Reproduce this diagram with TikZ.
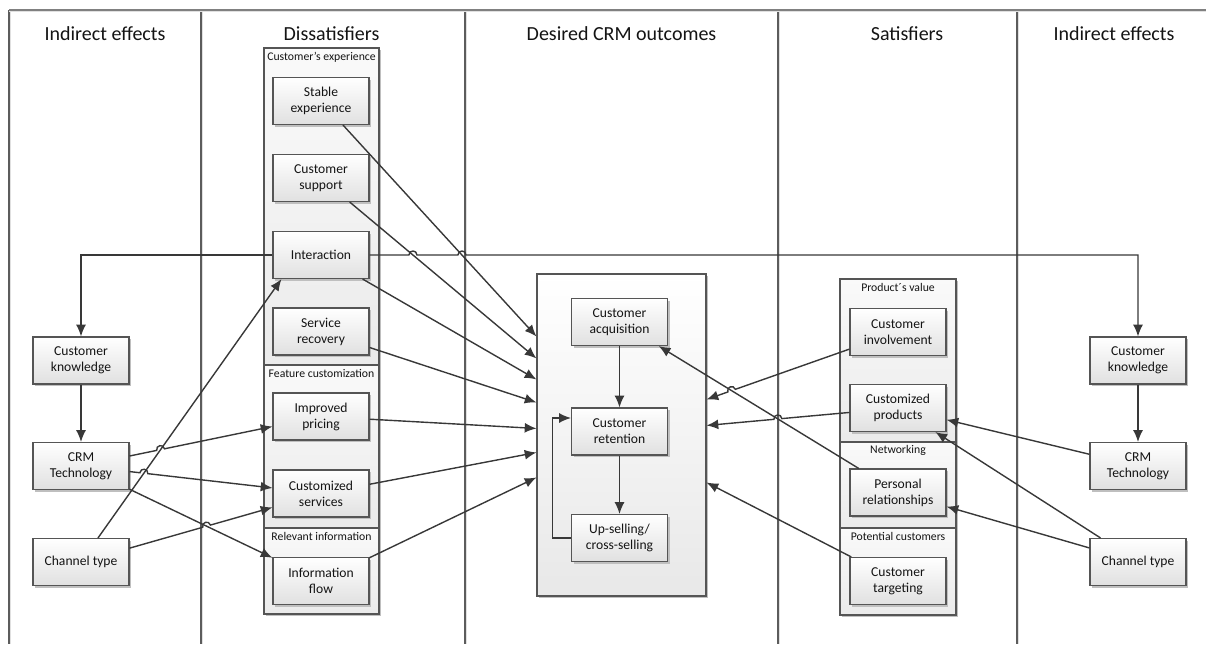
\documentclass[tikz,border=0pt]{standalone}
\usepackage{fontspec}
\setmainfont{Carlito}
\usetikzlibrary{arrows.meta,calc,intersections,shadows}

\definecolor{ink}{HTML}{141414}
\definecolor{wire}{HTML}{383838}
\definecolor{boxline}{HTML}{555555}
\definecolor{lanegray}{HTML}{5C5C5C}

% line jump: points just before/after crossing #1 (toward #2 on the left, #3 on the right)
% and the control points of the little arc over it
\newcommand\mkhop[3]{%
  \coordinate (#1a) at ($(#1)!3pt!(#2)$);
  \coordinate (#1b) at ($(#1)!3pt!(#3)$);
  \coordinate (#1c) at ($(#1a)!4pt!90:(#1b)$);
  \coordinate (#1d) at ($(#1b)!4pt!-90:(#1a)$);
}

\tikzset{
  sizepx/.style 2 args={minimum width=#1*0.75pt, minimum height=#2*0.75pt},
  castshadow/.style={drop shadow={shadow xshift=1.5pt, shadow yshift=-1.5pt, fill=black!25, opacity=1}},
  box/.style={draw=boxline, line width=0.8pt, top color=white, bottom color=black!12,
    sizepx={96}{47}, inner sep=0pt, align=center, text=ink,
    font=\fontsize{10.2}{12}\selectfont, castshadow},
  groupbox/.style={draw=boxline, line width=0.8pt, top color=black!2, bottom color=black!8,
    inner sep=0pt, castshadow},
  outcomes/.style={draw=boxline, line width=0.8pt, top color=white, bottom color=black!9,
    inner sep=0pt, castshadow},
  grouptitle/.style={anchor=base, inner sep=0pt, text=ink, font=\fontsize{8.8}{10}\selectfont},
  header/.style={anchor=base, inner sep=0pt, text=ink, font=\fontsize{15}{18}\selectfont},
  lane/.style={draw=lanegray, line width=0.9pt},
  laneglow/.style={draw=black!12, line width=0.8pt},
  conn/.style={draw=wire, line width=1.05pt},
  arr/.style={conn, -{Latex[length=8.8pt,width=7.4pt]}},
}

\begin{document}
\begin{tikzpicture}[x=0.75pt, y=-0.75pt]
\useasboundingbox (0,0) rectangle (1206,644);

% swimlane frame
\foreach \lx in {9,201,465,778,1017} {
  \draw[laneglow] (\lx+1.6,11) -- (\lx+1.6,644);
  \draw[lane] (\lx,10) -- (\lx,644);
}
\draw[laneglow] (9,11.6) -- (1206,11.6);
\draw[draw=black!50, line width=0.8pt] (9,10) -- (1206,10);

% lane headers
\node[header] (hLeft)  at (105,40)   {Indirect effects};
\node[header] (hDis)   at (331.5,40) {Dissatisfiers};
\node[header] (hOut)   at (621.5,40) {Desired CRM outcomes};
\node[header] (hSat)   at (907,40)   {Satisfiers};
\node[header] (hRight) at (1114,40)  {Indirect effects};

% dissatisfier groups
\node[groupbox, sizepx={115}{317}] (gExp)  at (321.5,206.5) {};
\node[groupbox, sizepx={115}{163}] (gFeat) at (321.5,446.5) {};
\node[groupbox, sizepx={115}{86}]  (gInfo) at (321.5,571)   {};
\node[grouptitle] (tExp)  at ($(gExp.north)+(0,13.5)$)  {Customer’s experience};
\node[grouptitle] (tFeat) at ($(gFeat.north)+(0,13)$)   {Feature customization};
\node[grouptitle] (tInfo) at ($(gInfo.north)+(0,13)$)   {Relevant information};

% satisfier groups
\node[groupbox, sizepx={116}{163}] (gVal) at (898,360.5) {};
\node[groupbox, sizepx={116}{86}]  (gNet) at (898,485)   {};
\node[groupbox, sizepx={116}{87}]  (gPot) at (898,571.5) {};
\node[grouptitle] (tVal) at ($(gVal.north)+(0,13)$) {Product´s value};
\node[grouptitle] (tNet) at ($(gNet.north)+(0,12.5)$) {Networking};
\node[grouptitle] (tPot) at ($(gPot.north)+(0,13)$) {Potential customers};

% outcomes container
\node[outcomes, sizepx={169}{322}] (outc) at (621.5,435) {};

% left indirect effects
\node[box] (ckL)  at (81,360.5) {Customer\\knowledge};
\node[box] (crmL) at (81,466)   {CRM\\Technology};
\node[box] (chL)  at (81,562)   {Channel type};

% dissatisfiers
\node[box] (stable)  at (321,101)   {Stable\\experience};
\node[box] (support) at (321,178)   {Customer\\support};
\node[box] (inter)   at (321,255)   {Interaction};
\node[box] (recov)   at (321,331.5) {Service\\recovery};
\node[box] (pricing) at (321,416.5) {Improved\\pricing};
\node[box] (cserv)   at (321,493.5) {Customized\\services};
\node[box] (iflow)   at (321,581)   {Information\\flow};

% outcomes
\node[box] (acq) at (619.5,322)   {Customer\\acquisition};
\node[box] (ret) at (619.5,431.5) {Customer\\retention};
\node[box] (ups) at (619.5,538)   {Up-selling/\\cross-selling};

% satisfiers
\node[box] (invol) at (898,332)   {Customer\\involvement};
\node[box] (cprod) at (898,408)   {Customized\\products};
\node[box] (prel)  at (898,492.5) {Personal\\relationships};
\node[box] (targ)  at (898,581)   {Customer\\targeting};

% right indirect effects
\node[box] (ckR)  at (1138,360.5) {Customer\\knowledge};
\node[box] (crmR) at (1138,466)   {CRM\\Technology};
\node[box] (chR)  at (1138,562)   {Channel type};

% entry points on the outcomes container
\coordinate (tStable)  at ($(outc.north west)+(0,63)$);
\coordinate (tSupport) at ($(outc.north west)+(0,85)$);
\coordinate (tInter)   at ($(outc.north west)+(0,106)$);
\coordinate (tRecov)   at ($(outc.north west)+(0,129)$);
\coordinate (tPricing) at ($(outc.north west)+(0,155)$);
\coordinate (tCserv)   at ($(outc.north west)+(0,179)$);
\coordinate (tIflow)   at ($(outc.north west)+(0,204)$);
\coordinate (tInvol)   at ($(outc.north east)+(0,126)$);
\coordinate (tCprod)   at ($(outc.north east)+(0,152)$);
\coordinate (tTarg)    at ($(outc.north east)+(0,209)$);
\coordinate (tChan)    at ($(inter.south west)+(9,0)$);
\coordinate (iCorner)  at (inter.east -| ckR);

% ---- connectors that others jump over
\draw[arr, name path=se] (stable) -- (tStable);
\draw[arr, name path=su] (support) -- (tSupport);
\draw[arr, name path=ci] (chL) -- (tChan);
\draw[arr, name path=cf] (crmL) -- (iflow);
\draw[arr, name path=pa] (prel) -- (acq);

% ---- plain connectors
\draw[arr] (ckL) -- (crmL);
\draw[arr] (inter) -| (ckL);
\draw[arr] (inter) -- (tInter);
\draw[arr] (recov) -- (tRecov);
\draw[arr] (pricing) -- (tPricing);
\draw[arr] (cserv) -- (tCserv);
\draw[arr] (iflow) -- (tIflow);
\draw[arr] (acq) -- (ret);
\draw[arr] (ret) -- (ups);
\draw[arr] (ups.west) -- ++(-18.5,0) |- ($(ret.west)+(0,-13.5)$);
\draw[arr] (targ) -- (tTarg);
\draw[arr] (ckR) -- (crmR);
\draw[arr] (crmR) -- (cprod);
\draw[arr] (chR) -- (cprod);
\draw[arr] (chR) -- (prel);

% ---- connectors with line jumps
\path[name path=ih] (inter.east) -- (iCorner);
\path[name path=cp] (crmL) -- (pricing);
\path[name path=cs] (crmL) -- (cserv);
\path[name path=hs] (chL) -- (cserv);
\path[name path=vi] (invol) -- (tInvol);
\path[name path=pr] (cprod) -- (tCprod);
\path[name intersections={of=ih and su, by=J1}];
\path[name intersections={of=ih and se, by=J2}];
\path[name intersections={of=cp and ci, by=J3}];
\path[name intersections={of=cs and ci, by=J4}];
\path[name intersections={of=hs and cf, by=J5}];
\path[name intersections={of=vi and pa, by=J6}];
\path[name intersections={of=pr and pa, by=J7}];
\mkhop{J1}{inter}{iCorner}
\mkhop{J2}{inter}{iCorner}
\mkhop{J3}{crmL}{pricing}
\mkhop{J4}{crmL}{cserv}
\mkhop{J5}{chL}{cserv}
\mkhop{J6}{tInvol}{invol}
\mkhop{J7}{tCprod}{cprod}

\draw[arr] (inter.east) -- (J1a) .. controls (J1c) and (J1d) .. (J1b)
  -- (J2a) .. controls (J2c) and (J2d) .. (J2b) -| (ckR);
\draw[arr] (crmL) -- (J3a) .. controls (J3c) and (J3d) .. (J3b) -- (pricing);
\draw[arr] (crmL) -- (J4a) .. controls (J4c) and (J4d) .. (J4b) -- (cserv);
\draw[arr] (chL) -- (J5a) .. controls (J5c) and (J5d) .. (J5b) -- (cserv);
\draw[arr] (invol) -- (J6b) .. controls (J6d) and (J6c) .. (J6a) -- (tInvol);
\draw[arr] (cprod) -- (J7b) .. controls (J7d) and (J7c) .. (J7a) -- (tCprod);

\end{tikzpicture}
\end{document}
